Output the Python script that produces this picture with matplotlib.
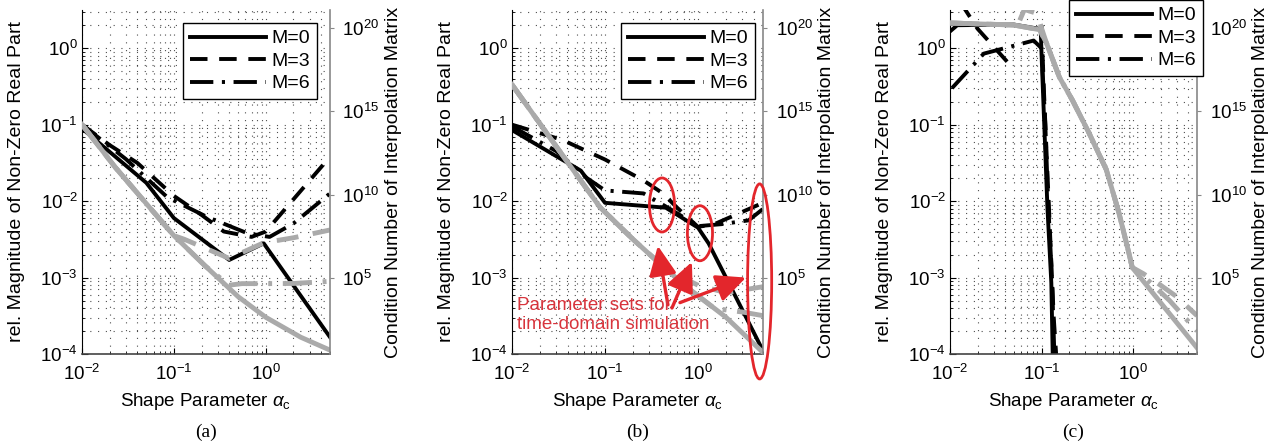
import matplotlib
matplotlib.use('Agg')
import matplotlib.pyplot as plt
from matplotlib.patches import Ellipse
from matplotlib.ticker import NullLocator

plt.rcParams['font.family'] = 'Liberation Sans'
plt.rcParams['mathtext.fontset'] = 'custom'
plt.rcParams['mathtext.rm'] = 'Liberation Sans'
plt.rcParams['mathtext.it'] = 'Liberation Sans:italic'
plt.rcParams['mathtext.bf'] = 'Liberation Sans:bold'

NAN = float('nan')

# ---- panel (a): rel. magnitude (left axis)
a_x_m0 = [0.01, 0.05, 0.1, 0.4, 0.95, 5]
a_rel_m0 = [0.089, 0.0174, 0.006, 0.0017, 0.0028, 0.000166]
a_x_m3 = [0.01, 0.02, 0.04, 0.1, 0.2, 0.35, 0.7, 1.0, 5]
a_rel_m3 = [0.1, 0.054, 0.0316, 0.0117, 0.0066, 0.004, 0.0034, 0.004, 0.038]
a_x_m6 = [0.01, 0.03, 0.085, 0.23, 0.63, 1.1, 2.0, 5]
a_rel_m6 = [0.1, 0.0355, 0.0112, 0.0062, 0.0038, 0.0034, 0.0051, 0.0126]
# condition number (right axis)
a_xc_m0 = [0.01, 0.023, 0.054, 0.1, 0.22, 0.5, 1, 2.4, 5]
a_cond_m0 = [1.6e14, 4.4e11, 1.8e9, 3.5e7, 5.2e5, 7.6e3, 440, 28, 4.7]
a_xc_m3 = [0.01, 0.023, 0.054, 0.1, 0.13, 0.4, 0.95, 2, 5]
a_cond_m3 = [1.6e14, 4.4e11, 1.8e9, 3.5e7, 2.1e7, 1.5e6, 1.3e7, 2.6e7, 7.6e7]
a_xc_m6 = [0.01, 0.023, 0.054, 0.1, 0.22, 0.4, 0.55, 1, 2, 5]
a_cond_m6 = [1.6e14, 4.4e11, 1.8e9, 3.5e7, 5.2e5, 3.7e4, 4.6e4, 4.6e4, 4.7e4, 6.3e4]

# ---- panel (b)
b_x_m0 = [0.01, 0.055, 0.1, 0.45, 1.0, 1.3, 2.0, 5]
b_rel_m0 = [0.085, 0.025, 0.0095, 0.0082, 0.0045, 0.0028, 0.001, 0.00011]
b_x_m3 = [0.01, 0.035, 0.1, 0.26, 0.42, 0.59, 1.0, 1.5, 5]
b_rel_m3 = [0.1, 0.063, 0.035, 0.0186, 0.0126, 0.0083, 0.0046, 0.005, 0.0095]
b_x_m6 = [0.01, 0.03, 0.064, 0.1, 0.26, 0.5, 1.0, 1.8, 3.5, 5]
b_rel_m6 = [0.095, 0.045, 0.020, 0.0138, 0.0126, 0.0079, 0.0047, 0.005, 0.0056, 0.0079]
b_xc_m0 = [0.01, 0.03, 0.088, 0.2, 0.46, 0.82, 2.0, 5]
b_cond_m0 = [4.0e16, 7.6e12, 1.8e9, 2.1e7, 3.1e5, 2.0e4, 440, 3.4]
b_xc_m3 = [0.01, 0.03, 0.088, 0.2, 0.46, 1.0, 2.0, 5]
b_cond_m3 = [4.0e16, 7.6e12, 1.8e9, 2.1e7, 3.1e5, 3.7e4, 1.3e4, 3.0e4]
b_xc_m6 = [0.01, 0.03, 0.088, 0.2, 0.46, 0.82, 1.5, 3, 5]
b_cond_m6 = [4.0e16, 7.6e12, 1.8e9, 2.1e7, 3.1e5, 2.0e4, 1.5e3, 910, 550]

# ---- panel (c)  (nan = gap in the curve)
c_x_m0 = [0.01, 0.012, 0.05, 0.098, 0.1, 0.108, 0.116, 0.128, 0.133]
c_rel_m0 = [1.66, 2.0, 2.04, 1.78, 0.85, 0.078, 0.0083, 0.00085, 0.00008]
c_x_m3 = [0.013, 0.02, 0.048, 0.07, 0.1, 0.106, 0.115, 0.125, 0.136, 0.15]
c_rel_m3 = [4.0, 1.8, 0.56, NAN, 2.0, 0.3, 0.03, 0.003, 0.0003, 0.00005]
c_x_m6 = [0.0105, 0.0234, 0.082, 0.1, 0.11, 0.118, 0.13, 0.14]
c_rel_m6 = [0.3, 0.85, 1.26, 1.0, 0.1, 0.01, 0.001, 0.00006]
c_xc_m0 = [0.01, 0.05, 0.095, 0.113, 0.157, 0.217, 0.33, 0.51, 0.70, 0.9, 0.98, 5]
c_cond_m0 = [2.0e20, 1.5e20, 7.9e19, 1.3e19, 1.1e17, 4.8e15, 5.1e13, 3.2e11, 8.5e8, 3.2e6, 4.3e5, 6.5]
c_xc_m3 = [0.01, 0.055, 0.065, 0.09, 0.1, 0.113, 0.157, 0.217, 0.33, 0.51, 0.70, 0.9, 0.98, 1.3, 2.0, 3.0, 5]
c_cond_m3 = [2.0e20, 1.5e20, 1.3e21, 7.4e20, 9.8e19, 1.3e19, 1.1e17, 4.8e15, 5.1e13, 3.2e11, 8.5e8, 3.2e6, 4.3e5, 1.8e5, 3.7e4, 7.6e3, 550]
c_xc_m6 = [0.01, 0.05, 0.095, 0.113, 0.157, 0.217, 0.33, 0.51, 0.70, 0.9, 0.98, 1.5, 2.5, 5]
c_cond_m6 = [2.0e20, 1.5e20, 7.9e19, 1.3e19, 1.1e17, 4.8e15, 5.1e13, 3.2e11, 8.5e8, 3.2e6, 4.3e5, 6.3e4, 4.5e3, 66]

legend_labels = ['M=0', 'M=3', 'M=6']
captions = ['(a)', '(b)', '(c)']

# red marks in (b)
ellipse_x = [0.41, 1.05, 4.6]
ellipse_y = [0.0089, 0.0038, 0.00089]
arrow_tip = [(0.37, 0.0026), (0.86, 0.0016), (3.28, 0.001)]
arrow_tail = [(0.475, 0.00044), (0.525, 0.0004), (0.64, 0.00047)]
note_text = 'Parameter sets for\ntime-domain simulation'

GRAY = '#aaaaaa'
RED = '#e3262c'
STYLES = [dict(linestyle='-'),
          dict(linestyle=(0, (4.5, 3))),
          dict(linestyle=(0, (6, 2.2, 0.8, 2.2)))]


def draw_panel(fig, rect, rel, cond, leg_anchor, caption):
    ax = fig.add_axes(rect)
    ax.set_xscale('log')
    ax.set_yscale('log')
    ax.set_xlim(0.01, 5)
    ax.set_ylim(1e-4, 10 ** 0.5)
    ax.grid(True, which='both', linestyle=(0, (1, 6)), linewidth=0.8, color='#222222', alpha=0.8)

    ax2 = ax.twinx()
    ax2.set_yscale('log')
    ax2.set_ylim(10 ** 0.44, 10 ** 21.08)
    ax2.set_yticks([1e5, 1e10, 1e15, 1e20])
    ax2.yaxis.set_minor_locator(NullLocator())

    handles = []
    for (x, y), st in zip(rel, STYLES):
        h, = ax.plot(x, y, color='k', lw=2.8, **st)
        handles.append(h)
    for (x, y), st in zip(cond, STYLES):
        ax2.plot(x, y, color=GRAY, lw=3.5, **st)

    for s in ['top', 'right']:
        ax.spines[s].set_visible(False)
    for s in ['top', 'left', 'bottom']:
        ax2.spines[s].set_visible(False)
    ax2.spines['right'].set_color('#888888')
    ax2.spines['right'].set_linewidth(1.2)
    ax.spines['bottom'].set_color('#444444')
    ax.spines['bottom'].set_linewidth(1.2)

    ax.tick_params(which='both', direction='in', labelsize=13.5)
    ax.tick_params(which='major', length=4)
    ax.tick_params(which='minor', length=2)
    ax.tick_params(axis='x', pad=7)
    ax.tick_params(axis='y', pad=3)
    ax2.tick_params(direction='out', length=3, color='#888888', labelsize=13.5, pad=6)

    ax.set_xlabel(r'Shape Parameter $\alpha_{\mathrm{c}}$', fontsize=13.5)
    ax.set_ylabel('rel. Magnitude of Non-Zero Real Part', fontsize=14)
    ax2.set_ylabel('Condition Number of Interpolation Matrix', fontsize=14)
    w_px = rect[2] * 1285
    h_px = rect[3] * 448
    ax.yaxis.set_label_coords(-57 / w_px, 0.5)
    ax2.yaxis.set_label_coords(1 + 55 / w_px, 0.5)
    ax.xaxis.set_label_coords(0.5, -37 / h_px)

    leg = ax2.legend(handles, legend_labels, loc='upper right', bbox_to_anchor=leg_anchor,
                     borderaxespad=0, fontsize=14, handlelength=3.9, handletextpad=0.3,
                     labelspacing=0.25, borderpad=0.35, fancybox=False, framealpha=1,
                     edgecolor='k')
    leg.get_frame().set_linewidth(1.0)

    fig.text(rect[0] + rect[2] / 2, 1 - 432 / 448, caption, ha='center', va='center',
             family='Liberation Serif', fontsize=14)
    return ax, ax2


fig = plt.figure(figsize=(12.85, 4.48), dpi=100)

bottom = 1 - 354 / 448
height = 344 / 448
rects = [[82 / 1285, bottom, 248 / 1285, height],
         [512 / 1285, bottom, 251 / 1285, height],
         [950 / 1285, bottom, 247 / 1285, height]]

panel_rel = [
    [(a_x_m0, a_rel_m0), (a_x_m3, a_rel_m3), (a_x_m6, a_rel_m6)],
    [(b_x_m0, b_rel_m0), (b_x_m3, b_rel_m3), (b_x_m6, b_rel_m6)],
    [(c_x_m0, c_rel_m0), (c_x_m3, c_rel_m3), (c_x_m6, c_rel_m6)],
]
panel_cond = [
    [(a_xc_m0, a_cond_m0), (a_xc_m3, a_cond_m3), (a_xc_m6, a_cond_m6)],
    [(b_xc_m0, b_cond_m0), (b_xc_m3, b_cond_m3), (b_xc_m6, b_cond_m6)],
    [(c_xc_m0, c_cond_m0), (c_xc_m3, c_cond_m3), (c_xc_m6, c_cond_m6)],
]
leg_anchors = [(0.948, 0.962), (0.968, 0.962), (1.024, 1.029)]

axes = []
for i in range(3):
    axes.append(draw_panel(fig, rects[i], panel_rel[i], panel_cond[i], leg_anchors[i], captions[i]))

# red marks in panel (b)
ax, ax2 = axes[1]
ell_w = [0.1, 0.1, 0.096]
ell_h = [0.157, 0.16, 0.567]
for x, y, w, h in zip(ellipse_x, ellipse_y, ell_w, ell_h):
    cx, cy = ax.transAxes.inverted().transform(ax.transData.transform((x, y)))
    ax2.add_patch(Ellipse((cx, cy), w, h, transform=ax2.transAxes, fill=False,
                          edgecolor=RED, lw=2.0, clip_on=False, zorder=6))
for tip, tail in zip(arrow_tip, arrow_tail):
    ax2.annotate('', xy=tip, xycoords=ax.transData, xytext=tail, textcoords=ax.transData,
                 arrowprops=dict(arrowstyle='-|>,head_length=1.5,head_width=0.7',
                                 mutation_scale=12, lw=2.4, color=RED,
                                 shrinkA=0, shrinkB=0), zorder=6)
ax2.text(0.0113, 5.6e-4, note_text, transform=ax.transData, color='#d8343c',
         fontsize=13.5, ha='left', va='top', linespacing=1.15, zorder=6)

fig.savefig('out.png', dpi=100)
